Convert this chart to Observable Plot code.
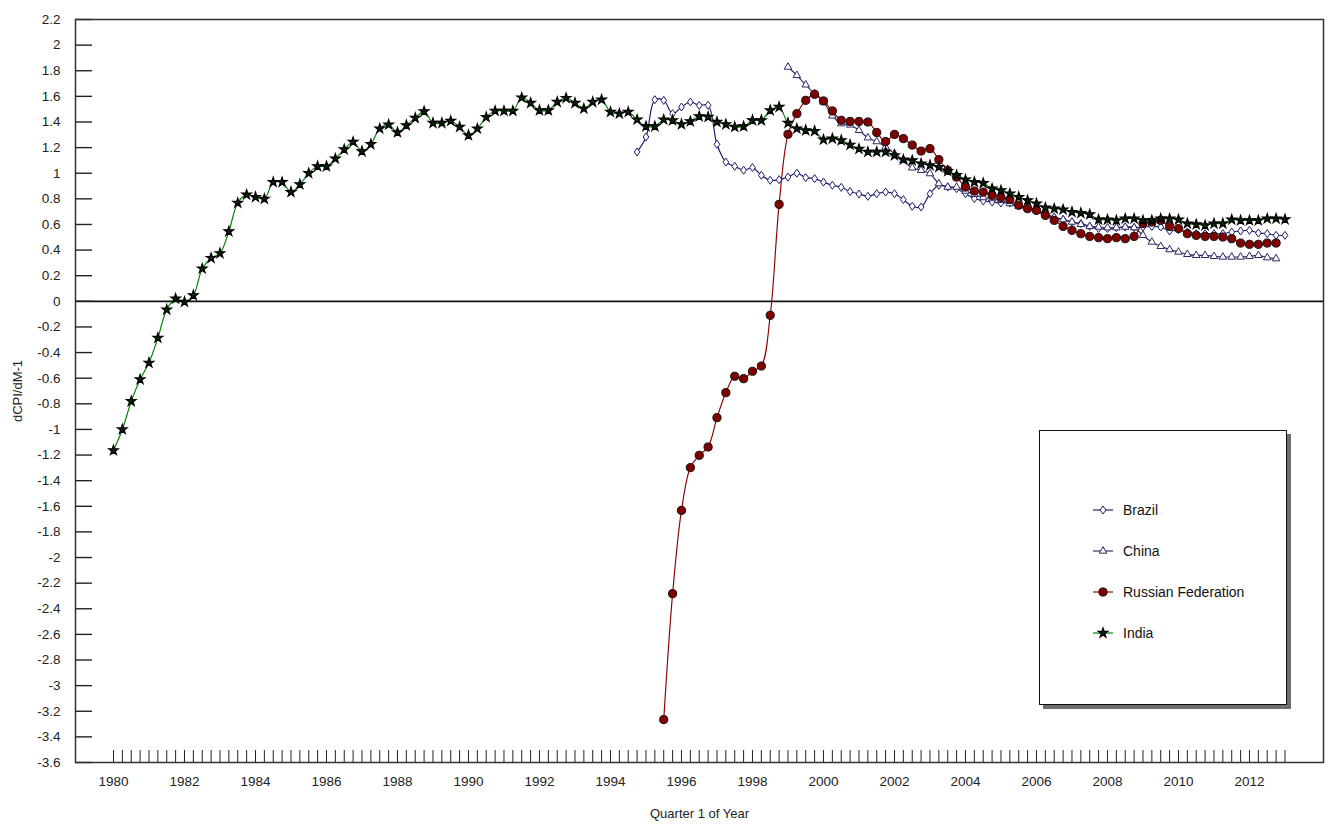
<!DOCTYPE html>
<html><head><meta charset="utf-8">
<script src="https://cdn.jsdelivr.net/npm/d3@7"></script>
<script src="https://cdn.jsdelivr.net/npm/@observablehq/plot@0.6"></script>
<style>
body{margin:0;background:#fff;}
#wrap{position:relative;width:1328px;height:827px;font-family:"Liberation Sans Narrow","Arial Narrow","Liberation Sans",Arial,sans-serif;}
#chart g[aria-label="y-axis tick label"], #chart g[aria-label="x-axis tick label"]{font-size:13.5px !important;}
#chart g[aria-label="y-axis label"], #chart g[aria-label="x-axis label"]{font-size:13px !important;}
#legend{position:absolute;left:1039px;top:430px;width:246px;height:273px;border:1.5px solid #111;background:#fff;box-shadow:4px 4px 0 #6e6e6e;}
.item{position:absolute;left:0;height:20px;}
.item svg{position:absolute;left:50px;top:0;}
.item span{position:absolute;left:83px;top:1px;font-size:14px;color:#111;white-space:nowrap;line-height:18px;}
</style></head>
<body><div id="wrap"><div id="chart"></div><div id="legend"></div></div>
<script>
// ---- data (quarterly values, first quarter given by *Start) ----
const countries = ["Brazil", "China", "Russian Federation", "India"];
const indiaStart = 1980.0;
const india = [-1.163,-1.0,-0.78,-0.61,-0.48,-0.286,-0.065,0.021,-0.005,0.047,0.255,0.338,0.375,0.546,0.768,0.833,0.814,0.80,0.93,0.93,0.853,0.913,1.0,1.054,1.054,1.114,1.186,1.244,1.171,1.226,1.348,1.379,1.319,1.374,1.431,1.483,1.392,1.392,1.408,1.361,1.296,1.348,1.437,
1.486,1.486,1.486,1.59,1.548,1.491,1.491,1.556,1.587,1.548,1.504,1.556,1.574,1.478,1.465,1.478,1.418,1.366,1.366,1.418,1.413,1.382,1.405,1.444,1.439,1.4,1.382,1.361,1.366,1.413,1.413,1.491,1.517,1.392,1.348,1.335,1.329,1.262,1.27,1.257,1.222,1.19,
1.166,1.166,1.166,1.14,1.106,1.10,1.075,1.062,1.048,1.017,0.984,0.95,0.931,0.923,0.88,0.866,0.84,0.814,0.788,0.763,0.731,0.723,0.716,0.697,0.689,0.679,0.638,0.638,0.632,0.645,0.645,0.632,0.632,0.645,0.645,0.638,0.607,0.601,0.593,0.607,0.607,0.638,0.632,0.632,0.632,0.645,0.645,0.64];
const brazilStart = 1994.75;
const brazil = [1.166,1.283,1.574,1.569,1.465,1.517,1.556,1.53,1.53,1.226,1.087,1.054,1.023,1.044,0.984,0.945,0.95,0.97,1.0,0.966,0.958,0.931,0.906,0.89,0.857,0.838,
0.82,0.84,0.853,0.84,0.794,0.742,0.736,0.84,0.906,0.892,0.88,0.84,0.802,0.783,0.775,0.767,0.767,0.75,0.731,0.705,0.671,0.653,0.638,0.619,0.607,0.585,0.568,0.568,0.575,0.58,0.575,0.58,0.585,0.58,0.549,0.56,0.541,0.528,0.528,0.528,0.528,0.541,0.549,0.554,0.533,0.528,0.515,0.515];
const chinaStart = 1999.0;
const china = [1.829,1.764,1.69,1.621,1.556,1.448,1.387,1.377,1.335,1.277,1.247,1.205,1.153,1.10,1.042,1.023,0.997,0.919,0.892,0.892,0.861,0.835,0.81,0.802,0.788,0.763,0.742,0.731,0.71,0.685,0.658,0.638,0.619,0.601,0.585,0.58,0.575,0.575,0.58,0.575,0.515,0.463,0.429,0.404,0.385,0.367,0.359,0.359,0.351,0.346,0.346,0.346,0.351,0.359,0.341,0.333];
const russiaStart = 1995.5;
const russia = [-3.265,-2.282,-1.632,-1.298,-1.202,-1.137,-0.908,-0.713,-0.585,-0.604,-0.546,-0.505,-0.109,0.757,1.304,1.465,1.569,1.616,1.564,1.486,1.413,1.404,1.404,1.40,1.318,1.247,1.303,1.27,1.22,1.173,1.192,1.106,1.023,0.97,0.892,0.861,0.853,0.827,0.81,0.794,0.75,0.723,0.71,0.671,0.632,0.585,0.554,0.528,0.507,0.497,0.489,0.497,0.489,0.507,0.607,0.619,0.632,0.585,0.568,0.528,0.515,0.507,0.507,0.502,0.489,0.455,0.445,0.445,0.455,0.455];
const yTicks = [2.2,2,1.8,1.6,1.4,1.2,1,0.8,0.6,0.4,0.2,0,-0.2,-0.4,-0.6,-0.8,-1,-1.2,-1.4,-1.6,-1.8,-2,-2.2,-2.4,-2.6,-2.8,-3,-3.2,-3.4,-3.6];
const yearLabels = [1980,1982,1984,1986,1988,1990,1992,1994,1996,1998,2000,2002,2004,2006,2008,2010,2012];
const firstQuarter = 1980, lastQuarter = 2013;

// tall open diamond like the original
const tallDiamond = {
  draw(context, size) {
    const r = Math.sqrt(size / Math.PI);
    const h = r, w = r * 0.72;
    context.moveTo(0, -h); context.lineTo(w, 0); context.lineTo(0, h); context.lineTo(-w, 0); context.closePath();
  }
};

// ---- styles ----
const styles = {
  "Brazil": {symbol:tallDiamond, r:4.0, fill:"white", stroke:"#1c1c6e", line:"#1c1c6e", sw:1},
  "China": {symbol:d3.symbolTriangle2, r:3.6, fill:"white", stroke:"#2e2866", line:"#2e2866", sw:1},
  "Russian Federation": {symbol:d3.symbolCircle, r:4.1, fill:"#800000", stroke:"#111", line:"#8b0000", sw:1},
  "India": {symbol:d3.symbolStar, r:3.0, fill:"#0d200d", stroke:"#000", line:"#008000", sw:1.2}
};
const toRows = (start, vals) => vals.map((v, i) => ({t: start + i / 4, v}));
const seriesData = {
  "Brazil": toRows(brazilStart, brazil),
  "China": toRows(chinaStart, china),
  "Russian Federation": toRows(russiaStart, russia),
  "India": toRows(indiaStart, india)
};
const quarterTicks = d3.range(0, (lastQuarter - firstQuarter) * 4 + 1).map(i => firstQuarter + i / 4);

const seriesMarks = countries.flatMap(c => {
  const s = styles[c];
  return [
    Plot.line(seriesData[c], {x:"t", y:"v", stroke:s.line, strokeWidth:1.15, curve:"catmull-rom"}),
    Plot.dot(seriesData[c], {x:"t", y:"v", symbol:s.symbol, r:s.r, fill:s.fill, stroke:s.stroke, strokeWidth:s.sw})
  ];
});

const font = '"Liberation Sans Narrow","Arial Narrow","Liberation Sans",Arial,sans-serif';
const chart = Plot.plot({
  width:1328, height:827,
  marginLeft:75, marginRight:5, marginTop:19, marginBottom:65,
  style:{fontFamily:font, fontSize:"13px", color:"#222", background:"white", overflow:"visible"},
  x:{domain:[1978.93, 2014.085]},
  y:{domain:[-3.6, 2.2]},
  marks:[
    Plot.ruleY([0], {stroke:"#111", strokeWidth:1.6}),
    Plot.axisY(yTicks, {tickSize:0, tickPadding:15, tickFormat:d => String(+d.toFixed(1)), label:"dCPI/dM-1", labelAnchor:"center", labelOffset:63, labelArrow:"none"}),
    Plot.axisY(yTicks, {tickSize:-17, tickFormat:() => "", label:null, stroke:"#222", strokeWidth:1.4}),
    Plot.axisX(quarterTicks, {tickSize:-12, tickFormat:() => "", label:null, stroke:"#222", strokeWidth:1}),
    Plot.axisX(yearLabels, {tickSize:0, tickPadding:14, tickFormat:d => String(d), label:"Quarter 1 of Year", labelAnchor:"center", labelOffset:55, labelArrow:"none"}),
    ...seriesMarks,
    Plot.frame({stroke:"#333", strokeWidth:1.5})
  ]
});
document.getElementById("chart").appendChild(chart);

// ---- legend ----
const legend = d3.select("#legend");
const rowTops = [79, 120, 161, 202];
countries.forEach((c, i) => {
  const s = styles[c];
  const item = legend.append("div").attr("class", "item").style("top", (rowTops[i] - 10) + "px");
  const svg = item.append("svg").attr("width", 26).attr("height", 20);
  svg.append("line").attr("x1", 3).attr("x2", 23).attr("y1", 10).attr("y2", 10).attr("stroke", s.line).attr("stroke-width", 1.15);
  svg.append("path").attr("transform", "translate(13,10)")
    .attr("d", d3.symbol(s.symbol, Math.PI * s.r * s.r)())
    .attr("fill", s.fill).attr("stroke", s.stroke).attr("stroke-width", s.sw);
  item.append("span").text(c);
});
</script></body></html>
